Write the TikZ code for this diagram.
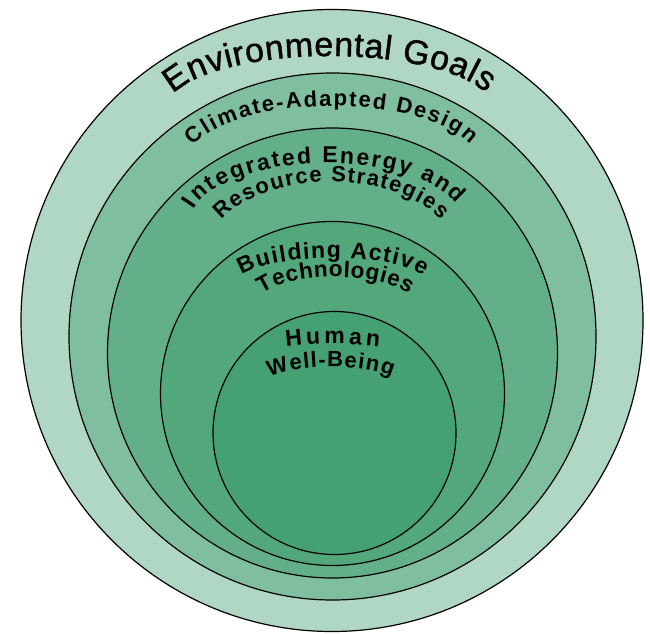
\documentclass[tikz,border=0pt]{standalone}
\usepackage{fontspec}
\setmainfont{Liberation Sans}
\newfontfamily\envfont[FakeBold=1.2]{Liberation Sans}
\usetikzlibrary{decorations.text}
\definecolor{ringA}{HTML}{B0D7C4}
\definecolor{ringB}{HTML}{7FBF9F}
\definecolor{ringC}{HTML}{62AF89}
\definecolor{ringD}{HTML}{52A77B}
\definecolor{ringE}{HTML}{45A173}
\begin{document}
\begin{tikzpicture}[x=1pt,y=1pt,
  ring/.style={circle, draw=black, line width=1.2pt, inner sep=0pt},
  arctext/.style={decorate, decoration={text along path, text align={fit to path}, text={#1}}}]
\useasboundingbox (0,0) rectangle (650,633);
% nested circles (image y -> 633 - y)
\node[ring, fill=ringA, minimum size=622pt] (env) at (332,312.5) {};
\node[ring, fill=ringB, minimum size=527pt] (climate) at (332.5,296.5) {};
\node[ring, fill=ringC, minimum size=450pt] (energy) at (332.5,280) {};
\node[ring, fill=ringD, minimum size=344pt] (active) at (332.5,239.5) {};
\node[ring, fill=ringE, minimum size=243pt] (human) at (334.5,200) {};
% curved labels
\path[arctext={|\envfont\fontsize{34}{38}\selectfont|Environmental Goals}]
  ([shift={(162.1:165 and 55)}]330,522) arc[start angle=162.1, end angle=19, x radius=165, y radius=55];
\path[arctext={|\fontsize{22}{25}\selectfont\bfseries|Climate-Adapted Design}]
  ([shift={(161:147 and 59)}]332,468) arc[start angle=161, end angle=20.1, x radius=147, y radius=59];
\path[arctext={|\fontsize{23}{26}\selectfont\bfseries|Integrated Energy and}]
  ([shift={(166:137 and 61)}]327,409) arc[start angle=166, end angle=19, x radius=137, y radius=61];
\path[arctext={|\fontsize{22}{26}\selectfont\bfseries|Resource Strategies}]
  ([shift={(155:121 and 66)}]331,385) arc[start angle=155, end angle=25, x radius=121, y radius=66];
\path[arctext={|\fontsize{23}{26}\selectfont\bfseries|Building Active}]
  ([shift={(160:96 and 26)}]332,349) arc[start angle=160, end angle=18, x radius=96, y radius=26];
\path[arctext={|\fontsize{22.5}{26}\selectfont\bfseries|Technologies}]
  ([shift={(153:82 and 31)}]335,325) arc[start angle=153, end angle=26, x radius=82, y radius=31];
\path[arctext={|\fontsize{23}{26}\selectfont\bfseries|Human}]
  ([shift={(147:56 and 6)}]333,283) arc[start angle=147, end angle=34, x radius=56, y radius=6];
\path[arctext={|\fontsize{22}{25}\selectfont\bfseries|Well-Being}]
  ([shift={(158:66 and 16)}]331,250) arc[start angle=158, end angle=23, x radius=66, y radius=16];
\end{tikzpicture}
\end{document}
